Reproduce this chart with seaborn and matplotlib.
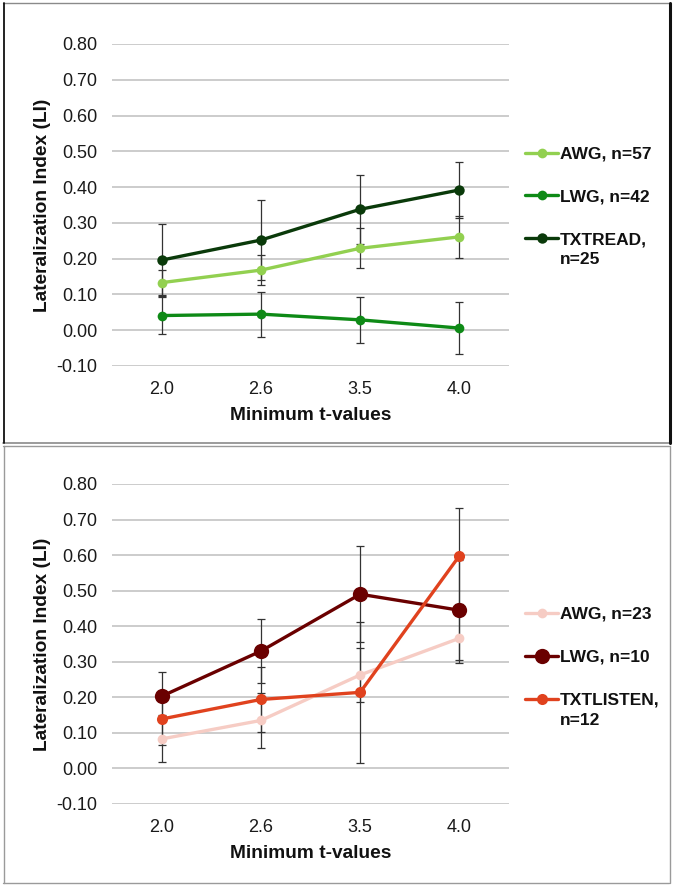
import matplotlib
matplotlib.use("Agg")
import matplotlib.pyplot as plt
from matplotlib.lines import Line2D
import seaborn as sns
import pandas as pd

# ---------------- data ----------------
t_values = ["2.0", "2.6", "3.5", "4.0"]
y_ticks = [-0.10, 0.00, 0.10, 0.20, 0.30, 0.40, 0.50, 0.60, 0.70, 0.80]

# Top panel (reading)
read_labels = ["AWG, n=57", "LWG, n=42", "TXTREAD,"]
read_extra = "n=25"
read_awg = [0.133, 0.168, 0.229, 0.261]
read_awg_err = [0.035, 0.041, 0.056, 0.058]
read_lwg = [0.041, 0.045, 0.029, 0.006]
read_lwg_err = [0.052, 0.063, 0.064, 0.072]
read_tx = [0.196, 0.252, 0.338, 0.392]
read_tx_err = [0.100, 0.113, 0.097, 0.077]

# Bottom panel (listening)
listen_labels = ["AWG, n=23", "LWG, n=10", "TXTLISTEN,"]
listen_extra = "n=12"
listen_awg = [0.083, 0.135, 0.263, 0.366]
listen_awg_err = [0.066, 0.078, 0.077, 0.069]
listen_lwg = [0.203, 0.330, 0.490, 0.445]
listen_lwg_err = [0.069, 0.089, 0.135, 0.141]
listen_tx = [0.139, 0.194, 0.214, 0.598]
listen_tx_err = [0.073, 0.092, 0.198, 0.135]

read_colors = ["#92D050", "#0E8A16", "#0A3A0A"]
listen_colors = ["#F6CCC4", "#6A0000", "#E0421E"]
read_msizes = [7, 7, 7.5]
listen_msizes = [7, 11, 8]

sns.set_theme(style="white")
plt.rcParams["font.family"] = ["Liberation Sans", "DejaVu Sans"]

W, H = 673, 885
fig = plt.figure(figsize=(W / 100, H / 100), dpi=100)


def panel(rect, labels, series, errs, colors, msizes, leg_y):
    ax = fig.add_axes(rect)
    for i, (lab, vals, err, col, ms) in enumerate(zip(labels, series, errs, colors, msizes)):
        df = pd.DataFrame({"t": t_values, "LI": vals})
        ax.errorbar(df["t"], df["LI"], yerr=err, fmt="none", ecolor="#333333",
                    elinewidth=0.9, capsize=2.6, capthick=0.9, zorder=2)
        sns.lineplot(data=df, x="t", y="LI", ax=ax, color=col, marker="o",
                     markersize=ms, markeredgewidth=0, linewidth=2.4,
                     label=lab, zorder=3 + i, sort=False)
    ax.set_xlim(-0.5, 3.5)
    ax.set_ylim(-0.10, 0.80)
    ax.set_yticks(y_ticks)
    ax.set_yticklabels([f"{v:.2f}" for v in y_ticks])
    ax.grid(axis="y", color="#BEBEBE", linewidth=1.1)
    ax.grid(axis="x", visible=False)
    ax.set_axisbelow(True)
    for s in ax.spines.values():
        s.set_visible(False)
    ax.tick_params(axis="both", length=0, labelsize=13, colors="#1a1a1a")
    ax.tick_params(axis="y", pad=10.5)
    ax.tick_params(axis="x", pad=11)
    ax.set_xlabel("Minimum t-values", fontsize=13.8, fontweight="bold", labelpad=6, color="#111111")
    ax.set_ylabel("Lateralization Index (LI)", fontsize=13.8, fontweight="bold", labelpad=4, color="#111111")
    leg = ax.legend(loc="center left", bbox_to_anchor=(1.0, leg_y - 0.5, 0.5, 1.0), frameon=False,
                    handlelength=1.9, handletextpad=0.1, labelspacing=1.6,
                    borderaxespad=0.55, prop={"weight": "bold", "size": 12.5})
    for t in leg.get_texts():
        t.set_color("#111111")
    return ax, leg


ax1, leg1 = panel([112 / W, 1 - 366 / H, 397 / W, 322 / H], read_labels,
                  [read_awg, read_lwg, read_tx], [read_awg_err, read_lwg_err, read_tx_err],
                  read_colors, read_msizes, 0.525)
ax2, leg2 = panel([112 / W, 1 - 804 / H, 397 / W, 320 / H], listen_labels,
                  [listen_awg, listen_lwg, listen_tx], [listen_awg_err, listen_lwg_err, listen_tx_err],
                  listen_colors, listen_msizes, 0.459)

# second line of the last legend entry
fig.canvas.draw()
renderer = fig.canvas.get_renderer()
for leg, extra in [(leg1, read_extra), (leg2, listen_extra)]:
    bb = leg.get_texts()[-1].get_window_extent(renderer)
    yc = (bb.y0 + bb.y1) / 2 - 20
    fig.text(bb.x0 / W, yc / H, extra, ha="left", va="center", fontsize=12.5,
             fontweight="bold", color="#111111")

# Panel frames
def fline(x0, y0, x1, y1, color, lw):
    fig.add_artist(Line2D([x0 / W, x1 / W], [1 - y0 / H, 1 - y1 / H], color=color,
                          linewidth=lw, transform=fig.transFigure))

# top panel frame
fline(3, 3, 669, 3, "#8a8a8a", 1.0)
fline(3, 443, 669, 443, "#8a8a8a", 1.2)
fline(3.5, 3, 3.5, 443, "#111111", 1.3)
fline(669.5, 3, 669.5, 443, "#111111", 2.2)
# bottom panel frame
fline(3, 446, 669, 446, "#9a9a9a", 1.0)
fline(3, 883, 669, 883, "#9a9a9a", 1.0)
fline(3.5, 446, 3.5, 883, "#9a9a9a", 1.0)
fline(669.5, 446, 669.5, 883, "#9a9a9a", 1.0)

fig.savefig("out.png", dpi=100)
